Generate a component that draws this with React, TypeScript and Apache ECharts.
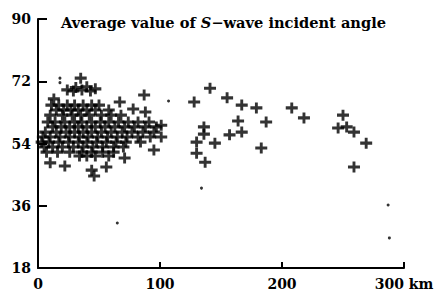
import React, { useEffect, useRef } from "react";
import * as echarts from "echarts";

const titleText = "Average value of S−wave incident angle";
const xTicks = [0, 100, 200, 300];
const yTicks = [18, 36, 54, 72, 90];

// Dense cluster of crosses near the origin [distance km, angle deg]
const clusterPoints: number[][] = [
  [35, 72.9], [24, 69.5], [29, 69.2], [36, 69.5], [43, 69.2], [47, 69.8], [31, 70.2], [40, 70.4],
  [13, 66.9], [67, 66.0], [87, 68.0],
  [11, 65.1], [17, 65.1], [24, 65.1], [30, 65.1], [37, 65.1], [44, 65.1], [50, 65.1],
  [15, 63.7], [21, 63.7], [27, 63.7], [33, 63.7], [40, 63.7], [47, 63.7], [58, 63.7], [78, 64.0], [88, 63.1],
  [10, 62.2], [20, 62.2], [28, 62.2], [35, 62.2], [42, 62.2], [52, 62.2], [60, 62.2], [68, 62.2],
  [8, 60.2], [14, 60.2], [22, 60.2], [30, 60.2], [36, 60.2], [44, 60.2], [51, 60.2], [58, 60.2], [66, 60.2], [74, 60.2], [82, 60.2], [91, 60.2], [101, 59.3],
  [12, 58.8], [19, 58.8], [26, 58.8], [33, 58.8], [40, 58.8], [47, 58.8], [55, 58.8], [63, 58.8], [71, 58.8], [79, 58.8], [88, 58.8], [97, 58.8],
  [6, 57.3], [15, 57.3], [23, 57.3], [30, 57.3], [37, 57.3], [44, 57.3], [52, 57.3], [60, 57.3], [69, 57.3], [77, 57.3], [86, 57.3], [95, 57.3],
  [4, 55.9], [10, 55.9], [18, 55.9], [26, 55.9], [34, 55.9], [41, 55.9], [49, 55.9], [57, 55.9], [65, 55.9], [73, 55.9], [82, 55.9], [92, 55.9], [101, 55.9],
  [3, 54.4], [9, 54.4], [17, 54.4], [25, 54.4], [33, 54.4], [40, 54.4], [48, 54.4], [56, 54.4], [64, 54.4], [72, 54.4], [84, 54.4],
  [5, 53.0], [12, 53.0], [20, 53.0], [29, 53.0], [37, 53.0], [45, 53.0], [53, 53.0], [62, 53.0], [70, 53.0],
  [7, 51.5], [16, 51.5], [26, 51.5], [36, 51.5], [44, 51.5], [53, 51.5], [62, 51.5], [95, 52.1],
  [34, 50.4], [40, 50.4], [47, 50.4], [58, 50.4], [71, 49.8],
  [10, 48.4], [22, 47.5], [44, 46.3], [56, 47.2], [46, 44.6],
];

// Scattered crosses further out
const farPoints: number[][] = [
  [128, 66.0], [141, 70.0], [155, 67.2], [167, 65.1], [179, 64.3], [187, 60.2], [164, 60.5],
  [136, 58.8], [136, 56.7], [130, 54.4], [145, 54.1], [157, 56.5], [167, 57.3],
  [130, 51.2], [137, 48.6], [183, 52.7],
  [208, 64.3], [218, 61.4], [250, 62.2], [246, 58.5], [253, 58.8], [259, 57.3], [269, 54.1], [259, 47.2],
];

// Isolated small dots
const dotPoints: number[][] = [
  [107, 66.3], [134, 41.1], [287, 36.2], [65, 31.0], [288, 26.7], [18, 72.9], [18, 71.6],
];

const FONT = "DejaVu Serif";
const crossPath =
  "path://M3.8,0 L6.2,0 L6.2,3.6 L10,3.6 L10,6.4 L6.2,6.4 L6.2,10 L3.8,10 L3.8,6.4 L0,6.4 L0,3.6 L3.8,3.6 Z";

export default function App() {
  const ref = useRef<HTMLDivElement>(null);
  useEffect(() => {
    if (!ref.current) return;
    const chart = echarts.init(ref.current, undefined, { renderer: "svg" });
    chart.setOption({
      animation: false,
      backgroundColor: "#ffffff",
      title: {
        text: "{a|Average value of }{b|S}{a|−wave incident angle}",
        left: 56,
        top: 10,
        textStyle: {
          rich: {
            a: { fontFamily: FONT, fontWeight: "bold", fontSize: 14.6, color: "#000" },
            b: { fontFamily: FONT, fontWeight: "bold", fontStyle: "italic", fontSize: 14.6, color: "#000" },
          },
        },
      },
      grid: { left: 38, right: 39, top: 19, bottom: 37, containLabel: false },
      xAxis: {
        type: "value",
        min: xTicks[0],
        max: xTicks[xTicks.length - 1],
        interval: 100,
        splitLine: { show: false },
        axisLine: { onZero: false, lineStyle: { color: "#000", width: 2 } },
        axisTick: { inside: true, length: 6, lineStyle: { color: "#000", width: 2 } },
        axisLabel: {
          margin: 9,
          fontFamily: FONT,
          fontWeight: "bold",
          fontSize: 14,
          color: "#000",
          formatter: (v: number) => (v === 300 ? "300 km" : String(v)),
        },
      },
      yAxis: {
        type: "value",
        min: yTicks[0],
        max: yTicks[yTicks.length - 1],
        interval: 18,
        splitLine: { show: false },
        axisLine: { onZero: false, lineStyle: { color: "#000", width: 2 } },
        axisTick: { inside: true, length: 9, lineStyle: { color: "#000", width: 2 } },
        axisLabel: {
          margin: 7,
          fontFamily: FONT,
          fontWeight: "bold",
          fontSize: 14,
          color: "#000",
        },
      },
      series: [
        {
          type: "scatter",
          data: clusterPoints,
          symbol: crossPath,
          symbolSize: [12, 11],
          itemStyle: { color: "#000" },
        },
        {
          type: "scatter",
          data: farPoints,
          symbol: crossPath,
          symbolSize: [12, 11],
          itemStyle: { color: "#000" },
        },
        {
          type: "scatter",
          data: dotPoints,
          symbol: "circle",
          symbolSize: 3,
          itemStyle: { color: "#000" },
        },
      ],
    });
    return () => chart.dispose();
  }, []);
  return <div ref={ref} style={{ width: 443, height: 305, position: "absolute", left: 0, top: 0 }} />;
}
